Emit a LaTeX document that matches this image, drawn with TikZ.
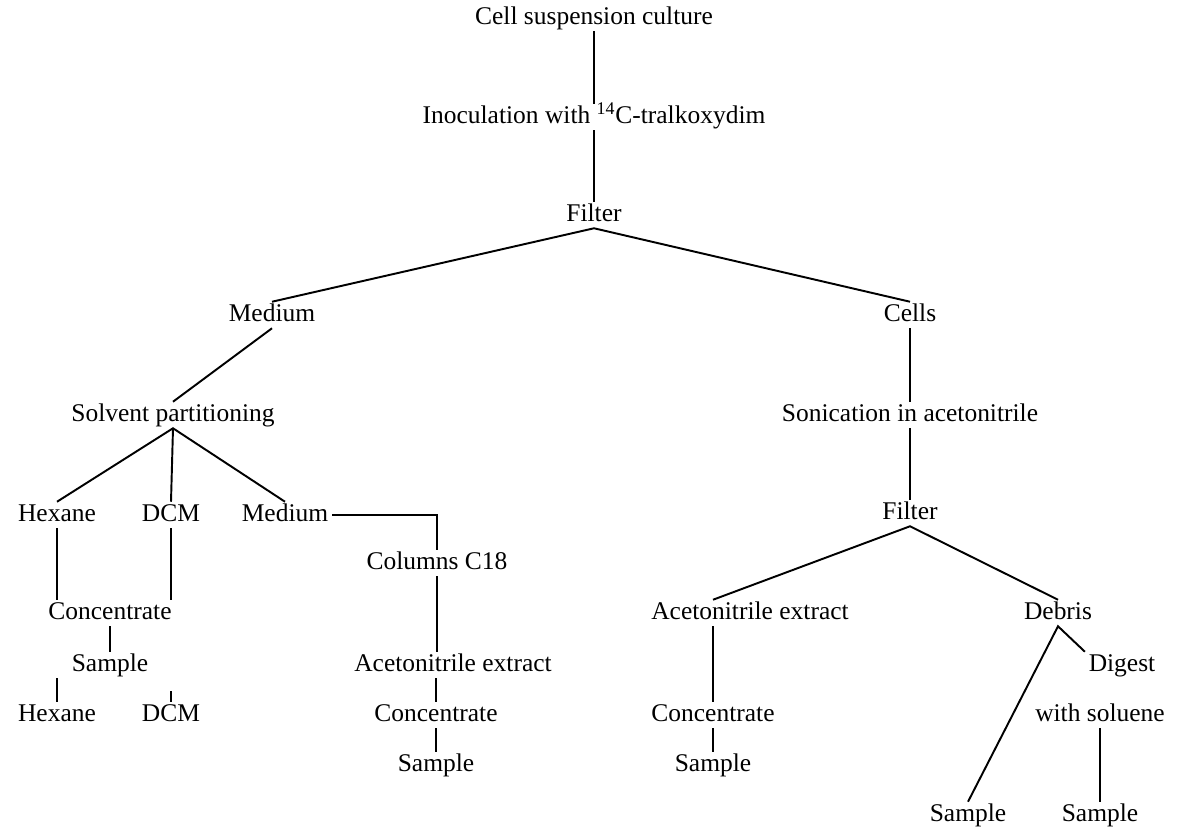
\documentclass[tikz,border=0pt]{standalone}
\usepackage{fontspec}
\setmainfont{Liberation Serif}
\usetikzlibrary{positioning}

\begin{document}
\begin{tikzpicture}[x=0.02cm, y=-0.02cm,
    stage/.style={inner xsep=2pt, inner ysep=1pt, text height=10pt, text depth=2.7pt,
      font=\fontsize{14.5}{17}\selectfont},
    link/.style={line width=1.1pt}]
  \useasboundingbox (0,0) rectangle (1200,828);

  % Main trunk
  \node[stage] (cult) at (594,18) {Cell suspension culture};
  \node[stage] (inoc) at (594,117) {Inoculation with \textsuperscript{14}C-tralkoxydim};
  \node[stage] (filt) at (594,215) {Filter};
  \node[stage] (med) at (272,315) {Medium};
  \node[stage] (cells) at (910,315) {Cells};

  % Medium branch
  \node[stage] (solv) at (173,415) {Solvent partitioning};
  \node[stage] (hex) at (57,515) {Hexane};
  \node[stage] (dcm) at (171,515) {DCM};
  \node[stage] (med2) at (285,515) {Medium};
  \node[stage] (col) at (437,563) {Columns C18};
  \node[stage] (conl) at (110,613) {Concentrate};
  \node[stage] (saml) at (110,665) {Sample};
  \node[stage] (hexb) at (57,715) {Hexane};
  \node[stage] (dcmb) at (171,715) {DCM};
  \node[stage] (acm) at (453,665) {Acetonitrile extract};
  \node[stage] (conm) at (436,715) {Concentrate};
  \node[stage] (samm) at (436,765) {Sample};

  % Cells branch
  \node[stage] (soni) at (910,415) {Sonication in acetonitrile};
  \node[stage] (filt2) at (910,513) {Filter};
  \node[stage] (acr) at (750,613) {Acetonitrile extract};
  \node[stage] (debr) at (1058,613) {Debris};
  \node[stage] (conr) at (713,715) {Concentrate};
  \node[stage] (samr) at (713,765) {Sample};
  \node[stage] (dig) at (1122,665) {Digest};
  \node[stage] (soln) at (1100,715) {with soluene};
  \node[stage] (samd) at (968,815) {Sample};
  \node[stage] (sams) at (1100,815) {Sample};

  % Connectors
  \draw[link] (cult.south) -- (cult.south |- inoc.north);
  \draw[link] (inoc.south) -- (inoc.south |- filt.north);
  \draw[link] (med.north) -- (filt.south) -- (cells.north);
  \draw[link] (med.south) -- (solv.north);
  \draw[link] (cells.south) -- (cells.south |- soni.north);
  \draw[link] (soni.south) -- (soni.south |- filt2.north);

  \draw[link] (hex.north) -- (solv.south) -- (med2.north);
  \draw[link] (solv.south) -- (dcm.north);
  \draw[link] (hex.south) -- (hex.south |- conl.north);
  \draw[link] (dcm.south) -- (dcm.south |- conl.north);
  \draw[link] (conl.south) -- (saml.north);
  \draw[link] (hexb.north |- saml.south) -- (hexb.north);
  \draw[link] (dcmb.north) -- ++(0,-11);
  \draw[link] (med2.east) -| (col.north);
  \draw[link] (col.south) -- (col.south |- acm.north);
  \draw[link] (conm.north |- acm.south) -- (conm.north);
  \draw[link] (conm.south) -- (samm.north);

  \draw[link] (conr.north |- acr.north) -- (filt2.south) -- (debr.north);
  \draw[link] (conr.north |- acr.south) -- (conr.north);
  \draw[link] (conr.south) -- (samr.north);
  \draw[link] (samd.north) -- (debr.south) -- (dig.north west);
  \draw[link] (soln.south) -- (sams.north);
\end{tikzpicture}
\end{document}
